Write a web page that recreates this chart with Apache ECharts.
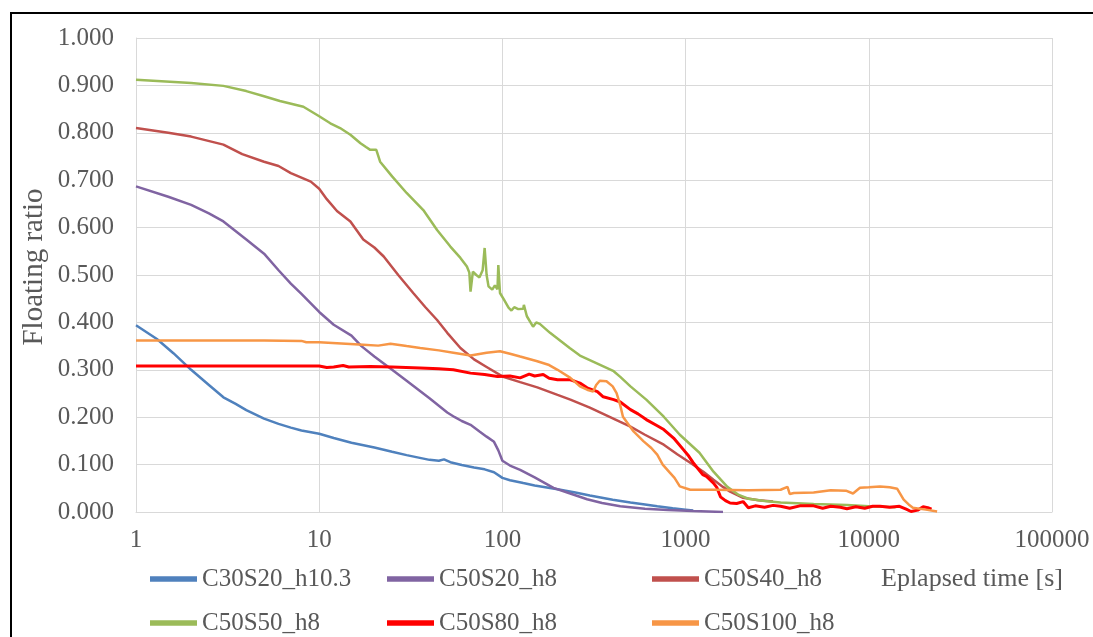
<!DOCTYPE html>
<html><head><meta charset="utf-8">
<script src="https://cdn.jsdelivr.net/npm/echarts@6/dist/echarts.min.js"></script>
<style>html,body{margin:0;padding:0;background:#fff}#c{width:1093px;height:637px}</style>
</head><body><div id="c"></div>
<script>
const seriesNames = ['C30S20_h10.3','C50S20_h8','C50S40_h8','C50S50_h8','C50S80_h8','C50S100_h8'];
const xTickLabels = [1,10,100,1000,10000,100000];
const yTickStep = 0.1;

const c30s20_h10_3 = [[1,0.394],[1.3,0.365],[1.6,0.335],[2,0.300],[2.5,0.268],[3,0.242],[3.5,0.228],[4,0.215],[5,0.197],[6,0.186],[7,0.178],[8,0.172],[10,0.165],[12,0.156],[15,0.146],[20,0.136],[25,0.127],[30,0.120],[40,0.110],[45,0.108],[48,0.111],[52,0.105],[60,0.099],[70,0.094],[80,0.090],[90,0.084],[100,0.072],[110,0.067],[130,0.061],[150,0.056],[200,0.048],[250,0.041],[300,0.035],[400,0.026],[500,0.020],[600,0.016],[700,0.012],[850,0.008],[1000,0.005],[1100,0.003]];
const c50s20_h8 = [[1,0.687],[1.5,0.665],[2,0.648],[2.5,0.630],[3,0.613],[4,0.575],[5,0.545],[6,0.510],[7,0.482],[8,0.460],[9,0.440],[10,0.422],[12,0.395],[15,0.372],[17,0.350],[20,0.328],[25,0.300],[30,0.277],[40,0.240],[50,0.210],[55,0.200],[60,0.192],[67,0.184],[75,0.170],[82,0.159],[90,0.148],[95,0.130],[100,0.108],[110,0.098],[125,0.089],[150,0.073],[190,0.051],[230,0.040],[290,0.027],[350,0.019],[440,0.012],[600,0.007],[800,0.004],[1100,0.002],[1600,0.000]];
const c50s40_h8 = [[1,0.810],[1.5,0.800],[2,0.792],[3,0.775],[3.8,0.755],[5,0.739],[6,0.730],[7,0.715],[9,0.697],[10,0.682],[11,0.660],[12.5,0.635],[14.8,0.613],[17.4,0.575],[20,0.558],[22.5,0.539],[27,0.500],[32.6,0.462],[38,0.432],[44,0.405],[50,0.378],[59,0.346],[70,0.322],[82,0.306],[100,0.286],[125,0.274],[155,0.263],[200,0.247],[235,0.237],[300,0.220],[440,0.190],[500,0.180],[600,0.163],[760,0.142],[900,0.122],[1060,0.104],[1250,0.085],[1420,0.068],[1600,0.053],[1750,0.043],[2060,0.030],[2500,0.025],[3000,0.022]];
const c50s50_h8 = [[1,0.912],[2,0.905],[3,0.899],[4,0.888],[5,0.877],[6.1,0.867],[8.2,0.855],[10,0.835],[11.5,0.820],[13,0.810],[14.8,0.796],[16.8,0.778],[18,0.770],[19,0.764],[20.5,0.764],[21.5,0.739],[25,0.708],[30,0.673],[37,0.637],[44,0.595],[52,0.560],[59,0.536],[64,0.518],[66,0.505],[67,0.465],[69,0.507],[72,0.500],[75,0.495],[78,0.510],[80,0.557],[82,0.500],[84,0.476],[88,0.469],[91,0.478],[94,0.470],[95,0.521],[97,0.462],[102,0.448],[108,0.431],[112,0.425],[116,0.432],[122,0.428],[130,0.429],[131,0.437],[136,0.413],[147,0.391],[153,0.400],[160,0.397],[182,0.378],[233,0.346],[265,0.330],[330,0.313],[405,0.297],[440,0.285],[500,0.265],[610,0.237],[760,0.201],[930,0.163],[1190,0.125],[1420,0.085],[1690,0.053],[1950,0.036],[2200,0.028],[2700,0.023],[3300,0.020],[5000,0.017],[7600,0.015],[10000,0.012],[12000,0.011],[14000,0.010]];
const c50s80_h8 = [[1,0.308],[5,0.308],[10,0.308],[11,0.305],[12,0.306],[13.5,0.309],[14.5,0.306],[19,0.307],[25,0.306],[35.6,0.304],[45,0.302],[54,0.300],[67,0.293],[80,0.290],[94,0.286],[110,0.287],[125,0.283],[140,0.291],[150,0.287],[167,0.290],[180,0.282],[200,0.279],[235,0.279],[265,0.272],[290,0.262],[330,0.254],[355,0.243],[405,0.237],[440,0.232],[500,0.216],[550,0.207],[610,0.195],[700,0.182],[760,0.174],[860,0.156],[975,0.131],[1040,0.118],[1100,0.104],[1240,0.079],[1300,0.075],[1420,0.061],[1480,0.052],[1550,0.032],[1650,0.024],[1750,0.019],[1900,0.018],[2060,0.022],[2200,0.009],[2400,0.013],[2700,0.010],[3000,0.014],[3300,0.012],[3700,0.008],[4200,0.013],[5000,0.013],[5600,0.008],[6200,0.012],[7000,0.010],[7600,0.007],[8500,0.011],[9500,0.008],[10500,0.012],[11500,0.012],[13000,0.010],[14700,0.012],[16000,0.006],[17000,0.001],[18500,0.004],[19800,0.011],[21000,0.009],[22000,0.006]];
const c50s100_h8 = [[1,0.362],[5,0.362],[8,0.361],[8.5,0.358],[10,0.358],[12.5,0.356],[17.4,0.353],[21,0.351],[24.5,0.355],[30,0.350],[35.6,0.346],[45,0.341],[54,0.336],[67,0.330],[82,0.336],[97,0.339],[110,0.334],[125,0.328],[155,0.318],[180,0.310],[200,0.300],[235,0.283],[265,0.265],[290,0.258],[313,0.254],[325,0.268],[340,0.277],[370,0.276],[400,0.265],[420,0.251],[440,0.225],[455,0.201],[520,0.170],[590,0.149],[650,0.135],[700,0.121],[750,0.100],[820,0.083],[870,0.072],[930,0.054],[1060,0.047],[1420,0.047],[2200,0.046],[3300,0.047],[3600,0.053],[3700,0.038],[3900,0.040],[5000,0.041],[6200,0.046],[7500,0.045],[8200,0.039],[8950,0.051],[10000,0.052],[11500,0.054],[13000,0.052],[14300,0.049],[15500,0.026],[16500,0.016],[17400,0.009],[20500,0.005],[23600,0.001]];

const seriesData = [c30s20_h10_3, c50s20_h8, c50s40_h8, c50s50_h8, c50s80_h8, c50s100_h8];
const colors = ['#4f81bd','#8064a2','#c0504d','#9bbb59','#ff0000','#f79646'];
const widths = [2.5,2.5,2.5,2.5,3,2.5];

const FONT = '"Liberation Serif", "Times New Roman", serif';
const TXT = '#595959';

const chart = echarts.init(document.getElementById('c'), null, {renderer:'canvas'});
const legendBase = {
  orient:'vertical', itemWidth:47, itemHeight:14, itemGap:18, padding:0, height:100,
  icon:'path://M0,0 L1,0 L1,0.12 L0,0.12 Z',
  textStyle:{fontFamily:FONT, fontSize:25, color:TXT, lineHeight:26}, top:566
};
chart.setOption({
  animation:false,
  backgroundColor:'#fff',
  grid:{left:136, right:41, top:38, bottom:125},
  xAxis:{
    type:'log', logBase:10, min:xTickLabels[0], max:xTickLabels[xTickLabels.length-1],
    axisLine:{show:true, lineStyle:{color:'#d9d9d9', width:1}},
    axisTick:{show:false},
    splitLine:{show:true, lineStyle:{color:'#d9d9d9', width:1}},
    minorTick:{show:false},
    axisLabel:{fontFamily:FONT, fontSize:25, color:TXT, margin:16, formatter:v=>String(Math.round(v))}
  },
  yAxis:{
    type:'value', min:0, max:1, interval:yTickStep,
    axisLine:{show:true, lineStyle:{color:'#d9d9d9', width:1}},
    axisTick:{show:false},
    splitLine:{show:true, lineStyle:{color:'#d9d9d9', width:1}},
    axisLabel:{fontFamily:FONT, fontSize:25, color:TXT, margin:22, formatter:v=>v.toFixed(3)}
  },
  legend:[
    Object.assign({}, legendBase, {left:150, data:[seriesNames[0], seriesNames[3]]}),
    Object.assign({}, legendBase, {left:387, data:[seriesNames[1], seriesNames[4]]}),
    Object.assign({}, legendBase, {left:652, data:[seriesNames[2], seriesNames[5]]})
  ],
  graphic:[
    {type:'polyline', shape:{points:[[11,637],[11,13],[1093,13]]}, style:{stroke:'#000', lineWidth:2, fill:null}},
    {type:'text', x:881, y:579, style:{text:'Eplapsed time [s]', font:'26px "Liberation Serif", serif', fill:TXT, verticalAlign:'middle'}},
    {type:'text', x:34, y:267, rotation:Math.PI/2, style:{text:'Floating ratio', font:'29px "Liberation Serif", serif', fill:TXT, align:'center', verticalAlign:'middle'}}
  ],
  series: seriesNames.map((n,i)=>({
    name:n, type:'line', data:seriesData[i], showSymbol:false, symbol:'none',
    lineStyle:{color:colors[i], width:widths[i]}, itemStyle:{color:colors[i]}, z:2+i
  }))
});
</script></body></html>
